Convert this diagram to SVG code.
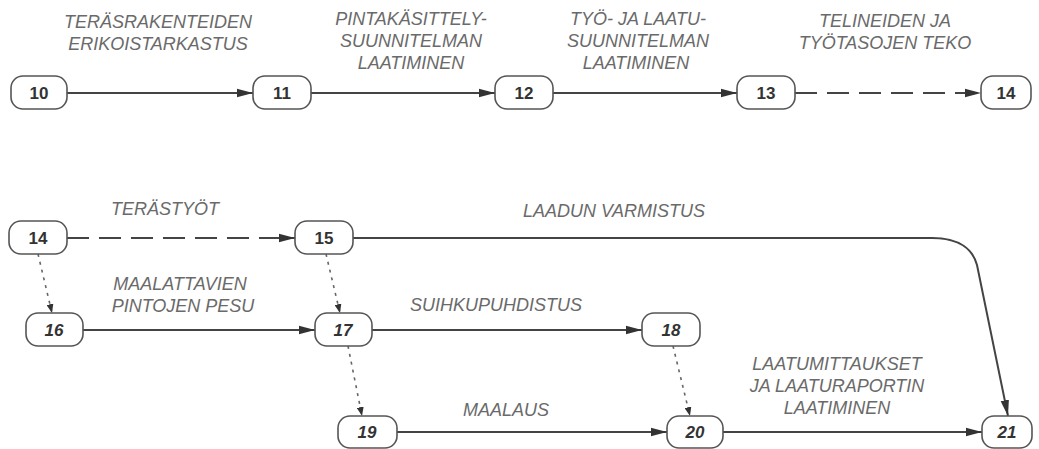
<svg xmlns="http://www.w3.org/2000/svg" width="1039" height="449" viewBox="0 0 1039 449">
<style>
.box{fill:#fff;stroke:#555;stroke-width:1.6}
.num{font-family:"Liberation Sans",Arial,sans-serif;font-weight:bold;font-size:17px;fill:#333;text-anchor:middle}
.it{font-style:italic}
.lbl{font-family:"Liberation Sans",Arial,sans-serif;font-style:italic;font-size:18px;fill:#6a6a6a;text-anchor:middle}
.solid{fill:none;stroke:#444;stroke-width:2}
.dash{fill:none;stroke:#444;stroke-width:2;stroke-dasharray:22 10}
.dot{fill:none;stroke:#666;stroke-width:1.6;stroke-dasharray:3 5}
</style>
<defs>
<marker id="ah" markerUnits="userSpaceOnUse" markerWidth="16" markerHeight="10" refX="16" refY="5" orient="auto"><path d="M0,0.8 L16,5 L0,9.2 z" fill="#333"/></marker>
<marker id="ahs" markerUnits="userSpaceOnUse" markerWidth="9" markerHeight="7" refX="9" refY="3.5" orient="auto"><path d="M0,0 L9,3.5 L0,7 z" fill="#333"/></marker>
</defs>
<rect width="1039" height="449" fill="#fff"/>
<g id="connectors">
<path class="solid" d="M67,93 H253" marker-end="url(#ah)"/>
<path class="solid" d="M311,93 H495" marker-end="url(#ah)"/>
<path class="solid" d="M553,93 H737" marker-end="url(#ah)"/>
<path class="dash" d="M795,93 H981" marker-end="url(#ah)"/>
<path class="dash" d="M67,238 H295" marker-end="url(#ah)"/>
<path class="solid" d="M353,238 H932 C960,238 973,250 977,265 L1008,416" marker-end="url(#ah)"/>
<path class="dot" d="M38,254 L52,313" marker-end="url(#ahs)"/>
<path class="dot" d="M326,254 L340,313" marker-end="url(#ahs)"/>
<path class="dot" d="M348,346 L362,416" marker-end="url(#ahs)"/>
<path class="dot" d="M673,346 L690,416" marker-end="url(#ahs)"/>
<path class="solid" d="M83,330 H315" marker-end="url(#ah)"/>
<path class="solid" d="M372,330 H642" marker-end="url(#ah)"/>
<path class="solid" d="M397,432 H667" marker-end="url(#ah)"/>
<path class="solid" d="M723,432 H982" marker-end="url(#ah)"/>
</g>
<g id="labels">
<text class="lbl" x="158" y="28">TERÄSRAKENTEIDEN</text>
<text class="lbl" x="158" y="50">ERIKOISTARKASTUS</text>
<text class="lbl" x="411" y="25">PINTAKÄSITTELY-</text>
<text class="lbl" x="411" y="47">SUUNNITELMAN</text>
<text class="lbl" x="411" y="69">LAATIMINEN</text>
<text class="lbl" x="638" y="25">TYÖ- JA LAATU-</text>
<text class="lbl" x="638" y="47">SUUNNITELMAN</text>
<text class="lbl" x="636" y="69">LAATIMINEN</text>
<text class="lbl" x="885" y="27">TELINEIDEN JA</text>
<text class="lbl" x="885" y="49">TYÖTASOJEN TEKO</text>
<text class="lbl" x="165" y="215">TERÄSTYÖT</text>
<text class="lbl" x="614" y="217">LAADUN VARMISTUS</text>
<text class="lbl" x="180" y="290">MAALATTAVIEN</text>
<text class="lbl" x="183" y="312">PINTOJEN PESU</text>
<text class="lbl" x="496" y="311">SUIHKUPUHDISTUS</text>
<text class="lbl" x="506" y="416">MAALAUS</text>
<text class="lbl" x="837" y="370">LAATUMITTAUKSET</text>
<text class="lbl" x="837" y="392">JA LAATURAPORTIN</text>
<text class="lbl" x="837" y="414">LAATIMINEN</text>
</g>
<g id="n10"><rect class="box" x="11" y="76" width="56" height="33" rx="12"/><text class="num" x="39" y="99">10</text></g>
<g id="n11"><rect class="box" x="253" y="76" width="58" height="33" rx="12"/><text class="num" x="282" y="99">11</text></g>
<g id="n12"><rect class="box" x="495" y="76" width="58" height="33" rx="12"/><text class="num" x="524" y="99">12</text></g>
<g id="n13"><rect class="box" x="737" y="76" width="58" height="33" rx="12"/><text class="num" x="766" y="99">13</text></g>
<g id="n14a"><rect class="box" x="981" y="76" width="50" height="33" rx="12"/><text class="num" x="1006" y="99">14</text></g>
<g id="n14b"><rect class="box" x="9" y="221" width="58" height="33" rx="12"/><text class="num" x="38" y="244">14</text></g>
<g id="n15"><rect class="box" x="295" y="221" width="58" height="33" rx="12"/><text class="num" x="324" y="244">15</text></g>
<g id="n16"><rect class="box" x="26" y="313" width="57" height="33" rx="12"/><text class="num it" x="54" y="336">16</text></g>
<g id="n17"><rect class="box" x="315" y="313" width="57" height="33" rx="12"/><text class="num it" x="343" y="336">17</text></g>
<g id="n18"><rect class="box" x="642" y="313" width="58" height="33" rx="12"/><text class="num it" x="671" y="336">18</text></g>
<g id="n19"><rect class="box" x="338" y="416" width="59" height="32" rx="12"/><text class="num it" x="367" y="438">19</text></g>
<g id="n20"><rect class="box" x="667" y="416" width="56" height="32" rx="12"/><text class="num it" x="695" y="438">20</text></g>
<g id="n21"><rect class="box" x="982" y="416" width="50" height="32" rx="12"/><text class="num it" x="1007" y="438">21</text></g>
</svg>
